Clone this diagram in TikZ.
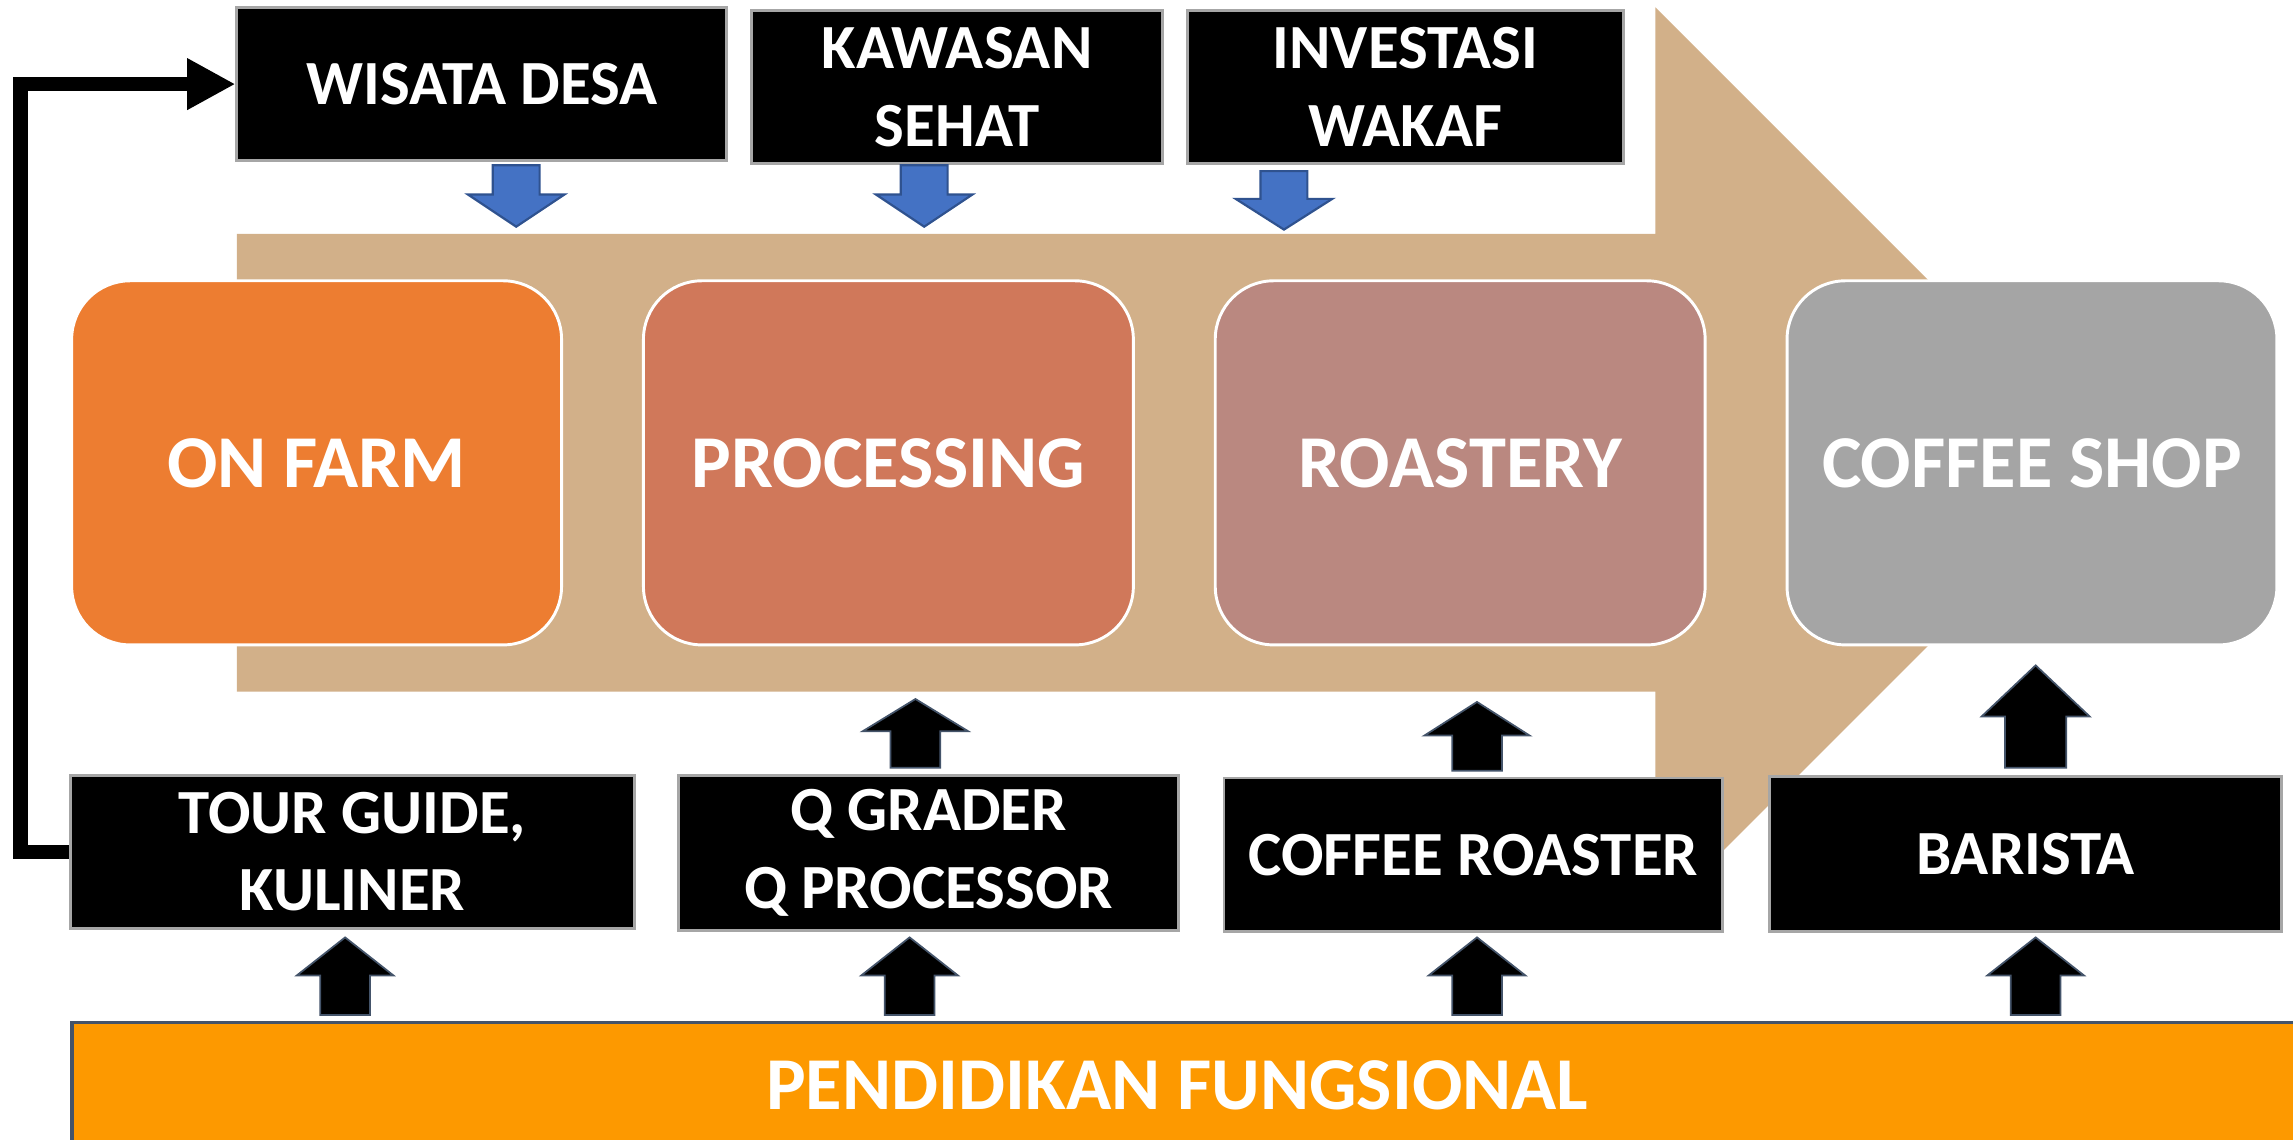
\documentclass[tikz,border=0pt]{standalone}
\usepackage{fontspec}
\setmainfont{Carlito}
\usetikzlibrary{arrows.meta,calc}
\definecolor{tanc}{RGB}{210,176,137}
\definecolor{onfarm}{RGB}{237,125,49}
\definecolor{procc}{RGB}{208,120,90}
\definecolor{roastc}{RGB}{186,136,128}
\definecolor{shopc}{RGB}{165,165,165}
\definecolor{pendc}{RGB}{253,153,0}
\definecolor{bluec}{RGB}{68,114,196}
\definecolor{bluedk}{RGB}{47,82,143}
\definecolor{slatec}{RGB}{68,84,106}
\newcommand\blkdown[4]{% x, ytop, headbase, ytip
  \filldraw[fill=bluec,draw=bluedk,line width=1.5pt,line join=miter]
  (#1-16,#2) -- (#1+16,#2) -- (#1+16,#3) -- (#1+33,#3) -- (#1,#4) -- (#1-33,#3) -- (#1-16,#3) -- cycle;}
\newcommand\blkup[6]{% x, ytip, headbase, ybot, head half width, shaft half width
  \filldraw[fill=black,draw=slatec,line width=1.2pt,line join=miter]
  (#1,#2) -- (#1+#5,#3) -- (#1+#6,#3) -- (#1+#6,#4) -- (#1-#6,#4) -- (#1-#6,#3) -- (#1-#5,#3) -- cycle;}
\begin{document}
\begin{tikzpicture}[x=1pt,y=-1pt,
  blackbox/.style={draw=black!35, line width=2pt, fill=black, text=white,
    font=\bfseries\fontsize{43}{53}\selectfont, align=center, inner sep=0pt},
  stage/.style={draw=white, line width=2pt, rounded corners=40pt, text=white,
    font=\bfseries\fontsize{51}{60}\selectfont, inner sep=0pt,
    minimum width=335pt, minimum height=249pt},
  pend/.style={draw=slatec, line width=2.5pt, fill=pendc, text=white,
    font=\bfseries\fontsize{51}{60}\selectfont, inner sep=0pt},
  loopline/.style={line width=10pt, -{Triangle[length=33pt,width=33pt]}}]
\useasboundingbox (0,0) rectangle (1568,779);
\fill[white] (0,0) rectangle (1568,779);
% big tan arrow
\fill[tanc] (162,160) -- (1132,160) -- (1132,5) -- (1443.5,316.5) -- (1132,628) -- (1132,473) -- (162,473) -- cycle;
% top boxes
\node[blackbox, minimum width=335pt, minimum height=105pt] (wisata) at (329.5,57.5) {WISATA DESA};
\node[blackbox, minimum width=281pt, minimum height=105pt] (kawasan) at (654.5,59.5) {KAWASAN\\SEHAT};
\node[blackbox, minimum width=298pt, minimum height=105pt] (invest) at (961,59.5) {INVESTASI\\WAKAF};
% blue arrows
\blkdown{353}{113}{133}{155}
\blkdown{632}{113}{133}{155}
\blkdown{878}{117}{136}{157}
% stages
\node[stage, fill=onfarm] (onfarm) at (216.5,316.5) {ON FARM};
\node[stage, fill=procc] (proc) at (607.5,316.5) {PROCESSING};
\node[stage, fill=roastc] (roast) at (998.5,316.5) {ROASTERY};
\node[stage, fill=shopc] (shop) at (1389.5,316.5) {COFFEE SHOP};
% bottom boxes
\node[blackbox, minimum width=386pt, minimum height=105pt] (tour) at (241,582.5) {TOUR GUIDE,\\KULINER};
\node[blackbox, minimum width=342pt, minimum height=106pt] (qgrader) at (635,583) {Q GRADER\\Q PROCESSOR};
\node[blackbox, minimum width=341pt, minimum height=105pt] (roaster) at (1007.5,584.5) {COFFEE ROASTER};
\node[blackbox, minimum width=350pt, minimum height=106pt] (barista) at (1385,584) {BARISTA};
% up arrows to stages
\blkup{626}{478}{500}{525}{36}{17}
\blkup{1010}{480}{503}{527}{36}{17}
\blkup{1392}{455}{490}{525}{37}{21}
% bottom bar
\node[pend, minimum width=1526pt, minimum height=90pt, anchor=north west] (pendidikan) at (48,698) {};
\node[text=white, font=\bfseries\fontsize{51}{60}\selectfont] at (805,742) {PENDIDIKAN FUNGSIONAL};
% up arrows from bottom bar
\blkup{236}{641}{667}{694}{33}{17}
\blkup{622}{641}{667}{694}{33}{17}
\blkup{1010}{641}{667}{694}{33}{17}
\blkup{1392}{641}{667}{694}{33}{17}
% loop connector
\draw[loopline] (tour.west) -- ++(-33,0) |- (wisata.west);
\end{tikzpicture}
\end{document}
